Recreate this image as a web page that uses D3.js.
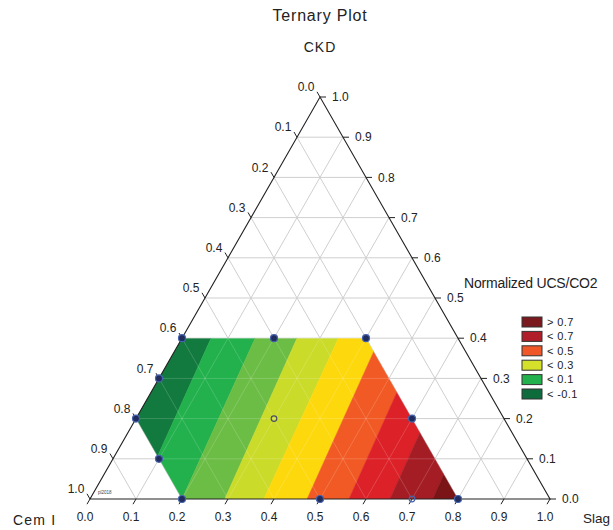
<!DOCTYPE html>
<html>
<head>
<meta charset="utf-8">
<script src="https://cdn.jsdelivr.net/npm/d3@7"></script>
<style>
  html, body { margin: 0; padding: 0; background: #fff; }
  svg { display: block; font-family: "Liberation Sans", Arial, Helvetica, sans-serif; }
</style>
</head>
<body>
<svg id="chart" width="613" height="530"></svg>
<script>
// ---------------- DATA ----------------
const chartTitle = "Ternary Plot";
const axisNames = { cem: "Cem I", slag: "Slag", ckd: "CKD" };
const tickValues = [0, 0.1, 0.2, 0.3, 0.4, 0.5, 0.6, 0.7, 0.8, 0.9, 1.0];
const tickLabels = ["0.0", "0.1", "0.2", "0.3", "0.4", "0.5", "0.6", "0.7", "0.8", "0.9", "1.0"];

// design points [Cem I, Slag, CKD]
const pointCem  = [0.6, 0.4, 0.2, 0.7, 0.8, 0.5, 0.8, 0.2, 0.8, 0.5, 0.3, 0.2];
const pointSlag = [0.0, 0.2, 0.4, 0.0, 0.0, 0.3, 0.1, 0.6, 0.2, 0.5, 0.7, 0.8];
const pointCkd  = [0.4, 0.4, 0.4, 0.3, 0.2, 0.2, 0.1, 0.2, 0.0, 0.0, 0.0, 0.0];
const pointKind = ["run", "run", "run", "run", "run", "centre", "run", "run", "run", "run", "check", "run"];

// constrained design region (Cem I, Slag, CKD)
const regionVertices = [
  [0.6, 0.0, 0.4], [0.8, 0.0, 0.2], [0.8, 0.2, 0.0],
  [0.2, 0.8, 0.0], [0.2, 0.4, 0.4]
];

// contour band boundaries: Slag fraction where boundary meets CKD = 0 and CKD = 0.4
const boundarySlagAtCkd0  = [0.105, 0.200, 0.293, 0.378, 0.472, 0.563, 0.652, 0.745];
const boundarySlagAtCkd04 = [0.063, 0.159, 0.250, 0.340, 0.430, 0.520, 0.610, 0.703];
const bandColors = ["#127a3e", "#22b14c", "#6cbd45", "#cbdb2a", "#fdd80c",
                    "#f15a24", "#dc2128", "#a51d24", "#7a1416"];

// legend
const legendTitle = "Normalized UCS/CO2";
const legendLabels = ["> 0.7", "< 0.7", "< 0.5", "< 0.3", "< 0.1", "< -0.1"];
const legendColors = ["#7a1a1e", "#b01e2a", "#f0582a", "#d4e02a", "#22b14c", "#0e6b3c"];

// ---------------- DRAW ----------------
const svg = d3.select("#chart");
const xS = d3.scaleLinear().domain([0, 1]).range([90, 550]);
const yS = d3.scaleLinear().domain([0, 1]).range([499, 97]);
const proj = (cem, slag, ckd) => [xS(slag + ckd / 2), yS(ckd)];
const line = d3.line();

// title & axis names
svg.append("text").attr("x", 320).attr("y", 21).attr("text-anchor", "middle")
  .attr("font-size", 16).attr("letter-spacing", 0.8).attr("fill", "#222").text(chartTitle);
svg.append("text").attr("x", 320).attr("y", 52).attr("text-anchor", "middle")
  .attr("font-size", 14).attr("letter-spacing", 1).attr("fill", "#222").text(axisNames.ckd);
svg.append("text").attr("x", 13).attr("y", 525).attr("text-anchor", "start")
  .attr("font-size", 14).attr("letter-spacing", 1.2).attr("fill", "#222").text(axisNames.cem);
svg.append("text").attr("x", 583).attr("y", 523).attr("text-anchor", "start")
  .attr("font-size", 13.5).attr("fill", "#222").text(axisNames.slag);

// grid lines
const inner = tickValues.filter(t => t > 0 && t < 1);
function gridSegments() {
  const segs = [];
  inner.forEach(t => {
    segs.push([proj(1 - t, 0, t), proj(0, 1 - t, t)]);     // constant CKD
    segs.push([proj(1 - t, t, 0), proj(0, t, 1 - t)]);     // constant Slag
    segs.push([proj(t, 1 - t, 0), proj(t, 0, 1 - t)]);     // constant Cem I
  });
  return segs;
}
svg.append("g").selectAll("path").data(gridSegments()).join("path")
  .attr("d", d => line(d)).attr("stroke", "#cfcfcf").attr("stroke-width", 1).attr("fill", "none");

// region clip
const regionPts = regionVertices.map(v => proj(v[0], v[1], v[2]));
svg.append("defs").append("clipPath").attr("id", "region")
  .append("path").attr("d", line(regionPts) + "Z");

// contour bands
const lower = [-1].concat(boundarySlagAtCkd0);
const lowerTop = [-1].concat(boundarySlagAtCkd04);
const upper = boundarySlagAtCkd0.concat([2]);
const upperTop = boundarySlagAtCkd04.concat([2]);
const bands = bandColors.map((c, i) => {
  const pts = [
    [xS(lower[i]), yS(0)], [xS(upper[i]), yS(0)],
    [xS(upperTop[i] + 0.2), yS(0.4)], [xS(lowerTop[i] + 0.2), yS(0.4)]
  ];
  return { color: c, pts };
});
const bandG = svg.append("g").attr("clip-path", "url(#region)");
bandG.selectAll("path").data(bands).join("path")
  .attr("d", d => line(d.pts) + "Z").attr("fill", d => d.color).attr("stroke", d => d.color).attr("stroke-width", 0.5);
// faint grid overlay on the fill
bandG.append("g").selectAll("path").data(gridSegments()).join("path")
  .attr("d", d => line(d)).attr("stroke", "#ffffff").attr("stroke-opacity", 0.22)
  .attr("stroke-width", 0.8).attr("fill", "none");

// triangle outline
const A = proj(1, 0, 0), B = proj(0, 1, 0), C = proj(0, 0, 1);
svg.append("path").attr("d", line([A, B, C]) + "Z").attr("fill", "none")
  .attr("stroke", "#222").attr("stroke-width", 1.1);

// ticks & labels
const axG = svg.append("g").attr("font-size", 12).attr("fill", "#222");
tickValues.forEach((t, i) => {
  // left axis: Cem I
  const pl = proj(t, 0, 1 - t);
  axG.append("path").attr("d", line([pl, [pl[0] - 3, pl[1] - 5.2]])).attr("stroke", "#222");
  axG.append("text").attr("x", pl[0] - 14).attr("y", pl[1] - 10).attr("dy", "0.35em")
    .attr("text-anchor", "middle").text(tickLabels[i]);
  // right axis: CKD
  const pr = proj(0, 1 - t, t);
  axG.append("path").attr("d", line([pr, [pr[0] + 6, pr[1]]])).attr("stroke", "#222");
  axG.append("text").attr("x", pr[0] + 12).attr("y", pr[1]).attr("dy", "0.35em")
    .attr("text-anchor", "start").text(tickLabels[i]);
  // bottom axis: Slag
  const pb = proj(1 - t, t, 0);
  axG.append("path").attr("d", line([pb, [pb[0] - 3, pb[1] + 5.2]])).attr("stroke", "#222");
  axG.append("text").attr("x", pb[0] - 5).attr("y", 517).attr("dy", "0.35em")
    .attr("text-anchor", "middle").text(tickLabels[i]);
});

// tiny stamp
svg.append("text").attr("x", 98).attr("y", 494).attr("font-size", 4.5).attr("fill", "#444").text("pl2018");

// design points
const pts = pointCem.map((c, i) => ({ cem: c, slag: pointSlag[i], ckd: pointCkd[i], kind: pointKind[i] }));
svg.append("g").selectAll("circle").data(pts).join("circle")
  .attr("cx", d => proj(d.cem, d.slag, d.ckd)[0])
  .attr("cy", d => proj(d.cem, d.slag, d.ckd)[1])
  .attr("r", d => d.kind === "run" ? 3.5 : 2.8)
  .attr("fill", d => d.kind === "run" ? "#1f2c5c" : "none")
  .attr("stroke", d => d.kind === "centre" ? "#4a4f66" : "#4763ad")
  .attr("stroke-width", 1.2);

// legend
svg.append("text").attr("x", 464).attr("y", 288).attr("font-size", 14).attr("fill", "#222")
  .attr("letter-spacing", -0.2).text(legendTitle);
const lg = svg.append("g").selectAll("g").data(legendLabels).join("g")
  .attr("transform", (d, i) => `translate(522, ${317 + i * 14.4})`);
lg.append("rect").attr("width", 20).attr("height", 10)
  .attr("fill", (d, i) => legendColors[i]).attr("stroke", "#333").attr("stroke-width", 1);
lg.append("text").attr("x", 25).attr("y", 5).attr("dy", "0.35em").attr("font-size", 11)
  .attr("letter-spacing", 0.4).attr("fill", "#222").text(d => d);
</script>
</body>
</html>
